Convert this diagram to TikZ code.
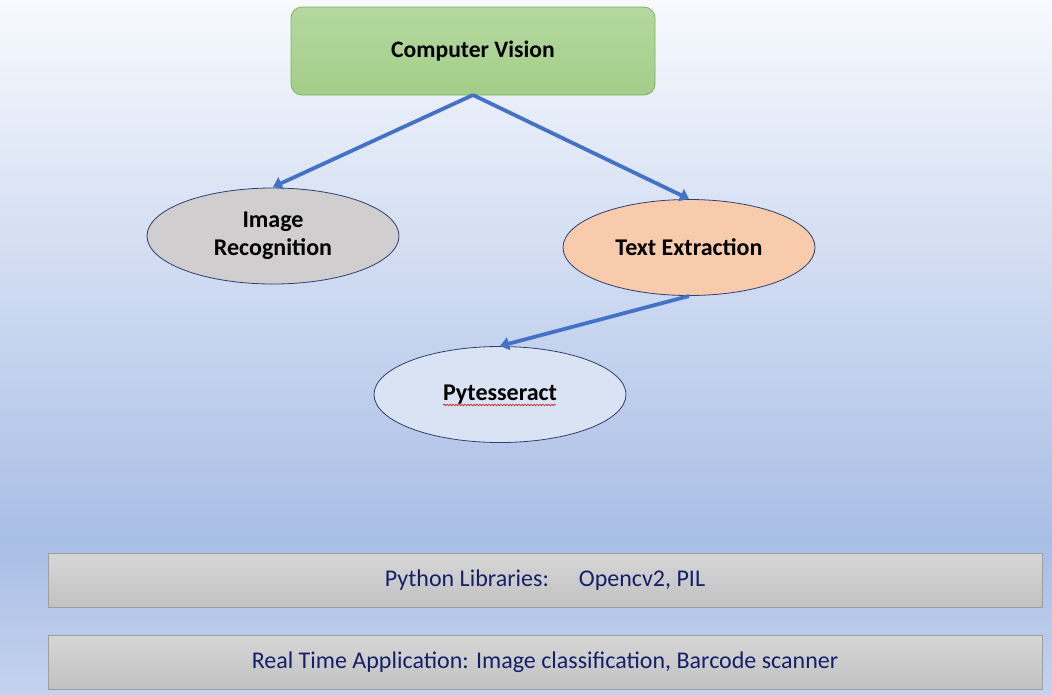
\documentclass[tikz,border=0pt]{standalone}
\usepackage{fontspec}
\setmainfont{Carlito}
\usetikzlibrary{arrows.meta,shapes.geometric,decorations.pathmorphing}
\definecolor{bgtop}{HTML}{F7F9FD}
\definecolor{bgmid}{HTML}{A9BEE6}
\definecolor{bgbot}{HTML}{C4D2EE}
\definecolor{arrowblue}{HTML}{4472C4}
\definecolor{edgenavy}{HTML}{2F3F6F}
\definecolor{textnavy}{HTML}{14206A}
\definecolor{greentop}{HTML}{B4D8A0}
\definecolor{greenbot}{HTML}{A3CE88}
\definecolor{greenedge}{HTML}{7FB35E}
\tikzset{
  ov/.style={ellipse, draw=edgenavy, line width=0.8pt, minimum width=252pt, minimum height=96pt, inner sep=0pt, font=\bfseries\fontsize{24}{28}\selectfont, align=center},
  conn/.style={draw=arrowblue, line width=3.8pt, -{Triangle[length=9pt,width=13pt]}},
  barbox/.style={draw=black!38, line width=1pt, top color=black!16, bottom color=black!24, minimum width=994pt, minimum height=54pt, inner sep=0pt, text=textnavy, font=\fontsize{24}{28}\selectfont}
}
\begin{document}
\begin{tikzpicture}[x=1pt,y=-1pt]
\useasboundingbox (0,0) rectangle (1052,694);
\shade[top color=bgtop, bottom color=bgmid] (0,0) rectangle (1052,540);
\shade[top color=bgmid, bottom color=bgbot] (0,540) rectangle (1052,694);

\node[draw=greenedge, line width=0.8pt, rounded corners=11pt, top color=greentop, bottom color=greenbot, minimum width=364pt, minimum height=88pt, inner sep=0pt, font=\bfseries\fontsize{23.6}{28}\selectfont] (cv) at (473,51) {Computer Vision};

\node[ov, fill={rgb,255:red,208;green,206;blue,206}] (ir) at (273,236) {Image\\Recognition};
\node[ov, fill={rgb,255:red,248;green,203;blue,173}] (te) at (689,247.5) {Text Extraction};
\node[ov, fill={rgb,255:red,218;green,227;blue,243}] (py) at (500,394.5) {Pytesseract};

\coordinate (cvb) at (473,95);
\coordinate (irt) at (273,187);
\coordinate (tet) at (689,199);
\coordinate (teb) at (689,296);
\coordinate (pyt) at (500,346);
\draw[conn] (cvb) -- (irt);
\draw[conn] (cvb) -- (tet);
\draw[conn] (teb) -- (pyt);

\coordinate (wl) at (443,405);
\coordinate (wr) at (556,405);
\draw[red!85!black, line width=0.5pt, decorate, decoration={snake, amplitude=0.9pt, segment length=3pt}] (wl) -- (wr);

\node[barbox] (lib) at (545,580) {Python Libraries:\hspace{30pt}Opencv2, PIL};
\node[barbox] (app) at (545,662.5) {Real Time Application: Image classification, Barcode scanner};
\end{tikzpicture}
\end{document}
